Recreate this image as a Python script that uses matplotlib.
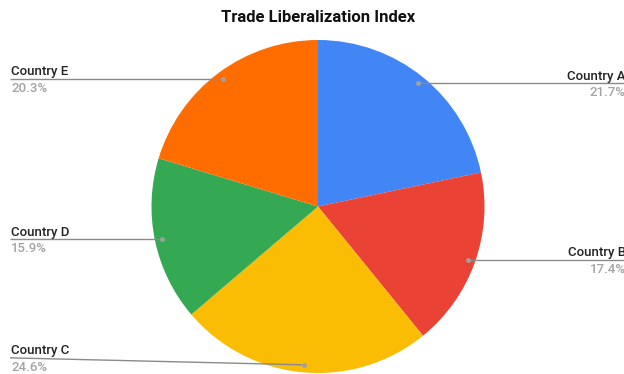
import numpy as np
import matplotlib as mpl
from matplotlib import pyplot as plt

mpl.rcParams['font.family'] = ['Roboto', 'DejaVu Sans']

# Trade liberalization index share by country
countries = ['Country A', 'Country B', 'Country C', 'Country D', 'Country E']
shares    = [21.7, 17.4, 24.6, 15.9, 20.3]
colors    = ['#4285F4', '#EA4335', '#FBBC04', '#34A853', '#FF6D01']

W, H      = 624, 374
cx, cy    = 318, H - 206.5   # pie centre (pixel coords, y up)
R         = 166.5
label_dy  = [0, 0, 7, 0, 0]  # extra lift of the label end of each leader line

fig = plt.figure(figsize=(W/100, H/100), dpi=100)
ax  = fig.add_axes([0, 0, 1, 1])

wedges, _ = ax.pie(shares, colors=colors, startangle=90, counterclock=False,
                   center=(cx, cy), radius=R, frame=True,
                   wedgeprops=dict(linewidth=0))

ax.set_xlim(0, W)
ax.set_ylim(0, H)
ax.set_aspect('equal')
ax.axis('off')

line_c = '#8a8a8a'
for w, name, val, dy in zip(wedges, countries, shares, label_dy):
	ang = np.deg2rad(0.5*(w.theta1 + w.theta2))
	px, py = cx + 0.955*R*np.cos(ang), cy + 0.955*R*np.sin(ang)
	ly = py + dy
	if np.cos(ang) > 0:
		x_end, ha, x_txt = W, 'right', W + 2
	else:
		x_end, ha, x_txt = 10, 'left', 11
	ax.plot([px, x_end], [py, ly], color=line_c, lw=1.0, solid_capstyle='butt', zorder=3)
	ax.plot(px, py, 'o', ms=3.5, color='#a0a0a0', mec='none', zorder=4)
	ax.text(x_txt, ly + 3.5, name, ha=ha, va='baseline', fontsize=9.5,
	        fontweight='medium', color='#222222')
	ax.text(x_txt, ly - 3, '%.1f%%' % val, ha=ha, va='top', fontsize=9.5,
	        fontweight='medium', color='#a3a3a3')

fig.text(318/W, 1 - 17.5/H, 'Trade Liberalization Index', ha='center', va='center',
         fontsize=12, fontweight='bold', color='#111111')

fig.savefig('out.png', dpi=100, facecolor='white')
